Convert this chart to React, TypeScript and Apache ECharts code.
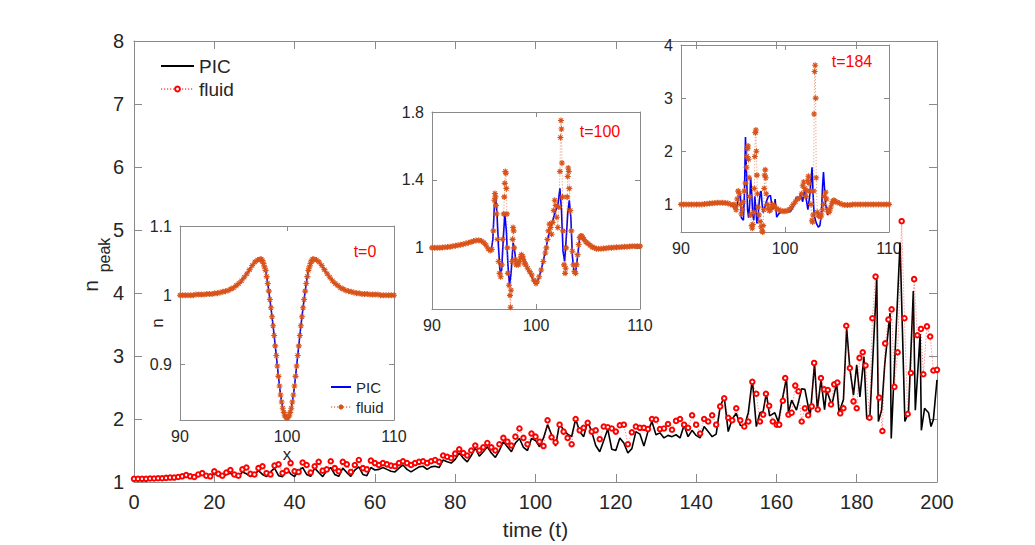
import React, { useEffect, useRef } from "react";
import * as echarts from "echarts";

const FONT = "Liberation Sans";
const AXIS = "#8a8a8a";
const TEXT = "#262626";
const ORANGE = "#D95319";
const ASTERISK = "path://M5,0L5,10M0,5L10,5M1.5,1.5L8.5,8.5M1.5,8.5L8.5,1.5";

// ---------- main chart ----------
const mainXTicks = { min: 0, max: 200, interval: 20 };
const mainYTicks = { min: 1, max: 8, interval: 1 };

// PIC, t = 0 .. 154 (step 1)
const picMain: number[] = [
  1.05, 1.05, 1.05, 1.05, 1.05, 1.05, 1.05, 1.055, 1.055, 1.06,
  1.06, 1.065, 1.08, 1.10, 1.08, 1.07, 1.10, 1.12, 1.09, 1.075,
  1.14, 1.10, 1.08, 1.12, 1.14, 1.09, 1.08, 1.16, 1.13, 1.085,
  1.12, 1.18, 1.12, 1.085, 1.16, 1.22, 1.10, 1.085, 1.22, 1.13,
  1.085, 1.18, 1.23, 1.12, 1.09, 1.22, 1.15, 1.085, 1.18, 1.23,
  1.12, 1.09, 1.22, 1.15, 1.09, 1.19, 1.24, 1.12, 1.10, 1.23,
  1.19, 1.20, 1.23, 1.20, 1.17, 1.16, 1.22, 1.27, 1.20, 1.16,
  1.20, 1.24, 1.25, 1.20, 1.24, 1.25, 1.23, 1.35, 1.32, 1.30,
  1.36, 1.46, 1.38, 1.32, 1.42, 1.54, 1.41, 1.48, 1.56, 1.46,
  1.39, 1.50, 1.64, 1.56, 1.48, 1.62, 1.69, 1.55, 1.50, 1.69,
  1.66, 1.56, 1.70, 1.91, 1.75, 1.57, 1.93, 1.82, 1.76, 1.72,
  2.00, 1.80, 1.72, 1.96, 1.80, 1.58, 1.48, 1.66, 1.84, 1.52,
  1.50, 1.70, 1.62, 1.46, 1.53, 1.80, 1.76, 1.57, 1.80, 1.96,
  1.75, 1.78, 1.70, 1.74, 1.72, 1.75, 1.70, 1.90, 1.72, 1.82,
  1.74, 1.70, 1.88, 1.80, 1.72, 1.76, 2.20, 2.35, 1.80, 2.00,
  2.09, 1.90, 1.88, 2.10, 2.63,
];
// PIC, t > 154 as [t, n]
const picTail: [number, number][] = [
  [155.0, 1.88], [155.9, 2.1], [156.7, 2.12], [157.5, 2.41], [158.3, 2.05], [159.6, 2.1],
  [160.5, 1.95], [161.3, 2.25], [162.5, 2.65], [163.0, 2.1], [163.8, 2.3], [165.0, 2.14],
  [166.3, 2.48], [167.1, 2.47], [168.4, 2.04], [169.5, 2.88], [170.2, 2.15], [171.1, 2.62],
  [172.0, 2.15], [172.5, 2.46], [173.8, 2.22], [175.0, 2.57], [175.6, 2.1], [176.7, 2.31],
  [177.5, 3.44], [178.3, 2.8], [179.2, 2.38], [180.0, 2.86], [180.8, 2.35], [181.8, 2.99],
  [182.5, 2.0], [183.3, 2.05], [185.0, 4.22], [185.4, 1.96], [186.2, 2.14], [187.0, 2.88],
  [188.3, 3.68], [188.6, 1.69], [190.8, 4.8], [192.0, 1.96], [192.9, 2.1], [194.1, 4.03],
  [194.6, 2.14], [195.8, 3.35], [196.1, 1.82], [196.9, 2.17], [197.9, 2.1], [198.5, 1.88],
  [199.1, 1.99], [200.0, 2.62],
];

// fluid, t = 0 .. 155 (step 1)
const fluidMain: number[] = [
  1.05, 1.05, 1.05, 1.05, 1.055, 1.055, 1.06, 1.06, 1.065, 1.07,
  1.07, 1.08, 1.09, 1.11, 1.09, 1.08, 1.12, 1.14, 1.10, 1.09,
  1.17, 1.13, 1.10, 1.15, 1.19, 1.12, 1.10, 1.20, 1.23, 1.13,
  1.12, 1.22, 1.25, 1.14, 1.12, 1.26, 1.28, 1.14, 1.18, 1.30,
  1.17, 1.16, 1.31, 1.27, 1.15, 1.25, 1.32, 1.18, 1.20, 1.33,
  1.22, 1.17, 1.32, 1.28, 1.16, 1.27, 1.35, 1.22, 1.20, 1.34,
  1.30, 1.27, 1.30, 1.28, 1.26, 1.25, 1.30, 1.33, 1.30, 1.27,
  1.30, 1.32, 1.33, 1.30, 1.33, 1.35, 1.32, 1.42, 1.40, 1.38,
  1.45, 1.52, 1.46, 1.42, 1.50, 1.58, 1.50, 1.55, 1.62, 1.55,
  1.50, 1.60, 1.70, 1.64, 1.58, 1.72, 1.85, 1.70, 1.60, 1.77,
  1.72, 1.64, 1.57, 1.98, 1.71, 1.63, 1.91, 1.80, 1.70, 1.60,
  2.00, 1.82, 1.86, 1.94, 1.80, 1.82, 1.68, 1.88, 1.87, 1.85,
  1.80, 1.90, 1.91, 1.60, 1.79, 1.88, 1.86, 1.86, 1.84, 2.00,
  1.99, 1.84, 1.85, 1.92, 1.83, 1.97, 2.00, 1.91, 1.86, 2.06,
  1.91, 1.77, 2.00, 1.96, 2.06, 1.91, 2.20, 2.33, 2.02, 1.98,
  2.17, 1.98, 1.88, 1.96, 2.59, 2.40,
];
// fluid, t > 155 as [t, n]
const fluidTail: [number, number][] = [
  [155.9, 1.96], [156.7, 2.07], [157.4, 2.4], [158.2, 2.21], [159.1, 1.96], [160.1, 1.91],
  [160.7, 1.91], [161.6, 2.29], [162.2, 2.65], [163.0, 2.07], [163.8, 2.1], [164.7, 2.53],
  [165.5, 2.44], [166.3, 1.96], [167.1, 2.17], [167.9, 2.06], [168.8, 2.2], [169.4, 2.89],
  [170.3, 2.15], [171.1, 2.65], [171.9, 2.47], [172.8, 2.46], [173.6, 2.23], [174.4, 2.55],
  [175.2, 2.58], [175.9, 2.09], [176.7, 2.17], [177.4, 3.48], [178.3, 2.81], [179.2, 2.28],
  [180.0, 2.17], [180.7, 2.97], [181.5, 3.06], [182.2, 2.85], [183.2, 2.02], [183.9, 3.6],
  [184.7, 4.26], [185.6, 2.34], [186.4, 1.81], [187.1, 3.2], [187.9, 3.58], [188.7, 3.74],
  [189.4, 2.51], [190.2, 3.06], [191.2, 5.14], [191.9, 3.6], [192.7, 2.08], [193.5, 2.73],
  [194.3, 4.22], [195.1, 3.33], [196.0, 3.43], [196.6, 2.71], [197.5, 3.47], [198.3, 3.31],
  [199.1, 2.77], [200.0, 2.78],
];

// ---------- inset t=0 ----------
const insetXTicks = { min: 90, max: 110, interval: 10 };
const inset0YTicks = [0.9, 1, 1.1];
const profile0: [number, number][] = [
  [90, 1.0], [90.25, 1.0], [90.5, 1.0], [90.75, 1.0], [91, 1.0], [91.25, 1.0], [91.5, 1.001],
  [91.75, 1.001], [92, 1.001], [92.25, 1.001], [92.5, 1.002], [92.75, 1.002], [93, 1.002],
  [93.25, 1.003], [93.5, 1.003], [93.75, 1.004], [94, 1.005], [94.25, 1.006], [94.5, 1.007],
  [94.75, 1.009], [95, 1.011], [95.25, 1.014], [95.5, 1.017], [95.75, 1.021], [96, 1.026],
  [96.25, 1.031], [96.5, 1.037], [96.75, 1.043], [97, 1.048], [97.25, 1.051], [97.5, 1.052],
  [97.6, 1.052], [97.7, 1.05], [97.8, 1.046], [97.9, 1.041], [98.0, 1.036], [98.1, 1.027],
  [98.2, 1.017], [98.3, 1.006], [98.4, 0.994], [98.5, 0.982], [98.6, 0.969], [98.7, 0.956],
  [98.8, 0.942], [98.9, 0.927], [99.0, 0.913], [99.1, 0.898], [99.2, 0.883], [99.3, 0.869],
  [99.4, 0.856], [99.5, 0.846], [99.6, 0.837], [99.7, 0.831], [99.8, 0.826], [99.9, 0.824],
  [100.0, 0.823], [100.1, 0.824], [100.2, 0.826], [100.3, 0.831], [100.4, 0.837], [100.5, 0.846],
  [100.6, 0.856], [100.7, 0.869], [100.8, 0.883], [100.9, 0.898], [101.0, 0.913], [101.1, 0.927],
  [101.2, 0.942], [101.3, 0.956], [101.4, 0.969], [101.5, 0.982], [101.6, 0.994], [101.7, 1.006],
  [101.8, 1.017], [101.9, 1.027], [102.0, 1.036], [102.1, 1.041], [102.2, 1.046], [102.3, 1.05],
  [102.4, 1.052], [102.5, 1.052], [102.75, 1.051], [103, 1.048], [103.25, 1.043], [103.5, 1.037],
  [103.75, 1.031], [104, 1.026], [104.25, 1.021], [104.5, 1.017], [104.75, 1.014], [105, 1.011],
  [105.25, 1.009], [105.5, 1.007], [105.75, 1.006], [106, 1.005], [106.25, 1.004], [106.5, 1.003],
  [106.75, 1.003], [107, 1.002], [107.25, 1.002], [107.5, 1.002], [107.75, 1.001], [108, 1.001],
  [108.25, 1.001], [108.5, 1.001], [108.75, 1.0], [109, 1.0], [109.25, 1.0], [109.5, 1.0],
  [109.75, 1.0], [110, 1.0],
];

// ---------- inset t=100 ----------
const inset100YTicks = [1, 1.4, 1.8];
const pic100: [number, number][] = [
  [90, 1.0], [90.5, 1.0], [91, 1.0], [91.5, 1.005], [92, 1.01], [92.5, 1.015], [93, 1.022],
  [93.5, 1.03], [94, 1.04], [94.5, 1.045], [94.8, 1.04], [95.1, 1.02], [95.4, 0.99], [95.7, 0.985],
  [95.85, 1.05], [96.0, 1.25], [96.1, 1.32], [96.25, 1.2], [96.4, 1.0], [96.55, 0.85], [96.7, 0.87],
  [96.85, 1.05], [97.0, 1.2], [97.15, 1.1], [97.3, 0.9], [97.45, 0.78], [97.6, 0.85], [97.8, 1.03],
  [97.95, 0.98], [98.1, 0.9], [98.3, 0.9], [98.5, 0.93], [98.7, 0.96], [98.9, 0.93], [99.2, 0.88],
  [99.5, 0.84], [99.8, 0.8], [100.0, 0.79], [100.2, 0.81], [100.5, 0.87], [100.8, 0.95], [101.0, 1.01],
  [101.3, 1.1], [101.6, 1.16], [101.9, 1.22], [102.1, 1.25], [102.3, 1.35], [102.45, 1.22],
  [102.6, 0.98], [102.75, 0.92], [102.9, 1.05], [103.05, 1.2], [103.2, 1.28], [103.35, 1.18],
  [103.5, 0.95], [103.65, 0.86], [103.8, 0.85], [104.0, 0.95], [104.2, 1.06], [104.4, 1.07],
  [104.6, 1.05], [104.9, 1.03], [105.3, 1.01], [105.8, 0.995], [106.5, 0.995], [107, 1.0],
  [108, 1.005], [109, 1.01], [110, 1.01],
];
const fluid100: [number, number][] = [
  [90, 1.0], [90.25, 1.0], [90.5, 1.0], [90.75, 1.0], [91, 1.002], [91.25, 1.003], [91.5, 1.005],
  [91.75, 1.007], [92, 1.01], [92.25, 1.012], [92.5, 1.015], [92.75, 1.018], [93, 1.022],
  [93.25, 1.026], [93.5, 1.03], [93.75, 1.035], [94, 1.04], [94.25, 1.043], [94.5, 1.045],
  [94.75, 1.04], [95, 1.03], [95.2, 1.015], [95.4, 0.995], [95.6, 0.985], [95.75, 0.99],
  [95.9, 1.1], [96.0, 1.28], [96.05, 1.32], [96.1, 1.3], [96.15, 1.25], [96.2, 1.2], [96.3, 1.05],
  [96.4, 0.92], [96.5, 0.85], [96.6, 0.83], [96.7, 0.9], [96.8, 1.05], [96.9, 1.2], [96.95, 1.3],
  [97.0, 1.38], [97.05, 1.45], [97.1, 1.44], [97.15, 1.35], [97.2, 1.2], [97.25, 1.0], [97.3, 0.85],
  [97.4, 0.78], [97.5, 0.72], [97.55, 0.65], [97.6, 0.75], [97.7, 0.92], [97.75, 1.05], [97.8, 1.12],
  [97.85, 1.1], [97.9, 1.0], [98.0, 0.93], [98.1, 0.9], [98.2, 0.91], [98.3, 0.9], [98.4, 0.92],
  [98.5, 0.94], [98.6, 0.96], [98.7, 0.95], [98.8, 0.93], [98.9, 0.91], [99.0, 0.9], [99.2, 0.88],
  [99.4, 0.86], [99.6, 0.84], [99.8, 0.81], [100.0, 0.79], [100.1, 0.8], [100.3, 0.83], [100.5, 0.87],
  [100.7, 0.92], [100.9, 0.97], [101.0, 1.0], [101.1, 1.05], [101.2, 1.1], [101.3, 1.14], [101.4, 1.12],
  [101.5, 1.08], [101.6, 1.15], [101.7, 1.22], [101.8, 1.28], [101.9, 1.25], [102.0, 1.18], [102.1, 1.12],
  [102.2, 1.24], [102.3, 1.45], [102.35, 1.65], [102.4, 1.75], [102.45, 1.7], [102.5, 1.5], [102.55, 1.3],
  [102.6, 1.1], [102.7, 0.9], [102.8, 0.85], [102.85, 0.88], [102.9, 1.0], [103.0, 1.3], [103.05, 1.42],
  [103.1, 1.47], [103.15, 1.45], [103.2, 1.35], [103.3, 1.22], [103.4, 1.1], [103.5, 0.98], [103.6, 0.9],
  [103.7, 0.86], [103.8, 0.85], [103.9, 0.9], [104.0, 0.96], [104.1, 1.02], [104.2, 1.06], [104.3, 1.07],
  [104.4, 1.07], [104.5, 1.06], [104.6, 1.05], [104.8, 1.035], [105.0, 1.025], [105.2, 1.015],
  [105.4, 1.005], [105.6, 1.0], [105.8, 0.995], [106, 0.995], [106.25, 0.995], [106.5, 0.996],
  [106.75, 0.998], [107, 1.0], [107.25, 1.001], [107.5, 1.002], [107.75, 1.003], [108, 1.004],
  [108.25, 1.005], [108.5, 1.006], [108.75, 1.007], [109, 1.008], [109.25, 1.009], [109.5, 1.01],
  [109.75, 1.01], [110, 1.01],
];

// ---------- inset t=184 ----------
const inset184YTicks = [1, 2, 3, 4];
const pic184: [number, number][] = [
  [90, 1.0], [91, 1.0], [92, 1.0], [92.5, 1.01], [93, 1.02], [93.5, 1.03], [94, 1.03], [94.5, 1.02],
  [95, 0.98], [95.3, 0.9], [95.5, 1.1], [95.7, 1.2], [95.8, 0.75], [96.0, 0.7], [96.1, 1.2], [96.2, 2.27],
  [96.3, 1.6], [96.4, 0.9], [96.5, 0.75], [96.6, 1.0], [96.7, 1.5], [96.8, 1.2], [96.9, 0.8], [97.0, 0.7],
  [97.1, 1.15], [97.2, 0.9], [97.3, 0.64], [97.4, 0.75], [97.5, 1.0], [97.6, 1.2], [97.7, 1.25], [97.8, 1.0],
  [97.9, 0.85], [98.0, 0.9], [98.2, 1.05], [98.4, 1.15], [98.6, 1.17], [98.8, 0.9], [99.0, 1.0], [99.05, 1.1],
  [99.2, 0.76], [99.4, 0.82], [99.7, 0.87], [100.0, 0.89], [100.3, 0.86], [100.5, 0.86], [100.8, 0.95],
  [101.1, 1.14], [101.3, 1.1], [101.5, 1.2], [101.7, 1.05], [101.9, 1.3], [102.0, 1.15], [102.2, 0.9],
  [102.4, 1.2], [102.6, 1.7], [102.7, 1.2], [102.8, 0.8], [103.0, 0.65], [103.2, 0.57], [103.35, 0.6],
  [103.5, 0.8], [103.6, 1.3], [103.7, 1.61], [103.8, 1.3], [103.9, 1.0], [104.1, 0.8], [104.3, 0.88],
  [104.5, 1.0], [104.7, 1.08], [105.0, 1.05], [105.5, 1.0], [106, 0.99], [107, 1.0], [108, 1.0],
  [109, 1.0], [110, 1.0],
];
const fluid184: [number, number][] = [
  [90, 1.0], [90.25, 1.0], [90.5, 1.0], [90.75, 1.0], [91, 1.0], [91.25, 1.0], [91.5, 1.0], [91.75, 1.0],
  [92, 1.0], [92.25, 1.005], [92.5, 1.01], [92.75, 1.015], [93, 1.02], [93.25, 1.025], [93.5, 1.03],
  [93.75, 1.03], [94, 1.03], [94.25, 1.025], [94.5, 1.02], [94.75, 1.0], [95.0, 0.99], [95.1, 1.0],
  [95.2, 0.95], [95.3, 0.9], [95.4, 1.1], [95.5, 1.25], [95.6, 1.2], [95.7, 1.0], [95.8, 0.82],
  [95.9, 0.9], [96.0, 1.05], [96.1, 1.25], [96.2, 1.4], [96.3, 1.7], [96.35, 1.9], [96.4, 2.05],
  [96.45, 2.1], [96.5, 1.85], [96.55, 1.5], [96.6, 1.15], [96.7, 0.8], [96.8, 0.6], [96.85, 0.55],
  [96.9, 0.62], [97.0, 0.85], [97.05, 1.3], [97.1, 1.9], [97.15, 2.35], [97.2, 2.4], [97.25, 2.0],
  [97.3, 1.55], [97.35, 1.2], [97.4, 0.95], [97.5, 0.8], [97.6, 0.68], [97.7, 0.58], [97.8, 0.5],
  [97.85, 0.48], [97.9, 0.6], [97.95, 0.9], [98.0, 1.3], [98.05, 1.55], [98.1, 1.65], [98.15, 1.5],
  [98.2, 1.2], [98.3, 1.0], [98.4, 0.92], [98.5, 0.88], [98.6, 0.9], [98.7, 0.95], [98.8, 1.0],
  [99.0, 0.97], [99.2, 0.92], [99.4, 0.9], [99.6, 0.88], [99.8, 0.87], [100.0, 0.87], [100.2, 0.88],
  [100.4, 0.9], [100.6, 0.94], [100.8, 1.0], [101.0, 1.05], [101.2, 1.1], [101.4, 1.12], [101.6, 1.2],
  [101.7, 1.35], [101.8, 1.42], [101.9, 1.3], [102.0, 1.15], [102.1, 1.25], [102.2, 1.45], [102.25, 1.53],
  [102.3, 1.4], [102.4, 1.25], [102.5, 1.0], [102.6, 0.7], [102.65, 0.67], [102.7, 0.8], [102.75, 1.25],
  [102.8, 2.7], [102.85, 3.5], [102.9, 3.62], [102.95, 3.0], [103.0, 1.5], [103.1, 0.85], [103.2, 0.8],
  [103.3, 0.78], [103.4, 0.76], [103.5, 0.8], [103.6, 0.9], [103.7, 1.0], [103.8, 1.15], [103.9, 1.23],
  [104.0, 1.1], [104.1, 0.9], [104.2, 0.85], [104.3, 0.88], [104.4, 0.95], [104.5, 1.02], [104.6, 1.06],
  [104.7, 1.08], [104.8, 1.06], [105.0, 1.04], [105.25, 1.02], [105.5, 1.0], [105.75, 0.99], [106, 0.99],
  [106.25, 0.99], [106.5, 1.0], [106.75, 1.0], [107, 1.0], [107.25, 1.0], [107.5, 1.0], [107.75, 1.0],
  [108, 1.0], [108.25, 1.0], [108.5, 1.0], [108.75, 1.0], [109, 1.0], [109.25, 1.0], [109.5, 1.0],
  [109.75, 1.0], [110, 1.0],
];

type AxOpts = {
  gridIndex: number;
  min: number;
  max: number;
  interval?: number;
  custom?: number[];
  fontSize: number;
  tickLen: number;
  margin: number;
  name?: string;
  nameGap?: number;
  nameSize?: number;
};

function axisPair(kind: "x" | "y", o: AxOpts) {
  const base = (labels: boolean, position: string) => {
    const ax: any = {
      type: "value",
      gridIndex: o.gridIndex,
      min: o.min,
      max: o.max,
      position,
      axisLine: { show: true, onZero: false, lineStyle: { color: AXIS, width: 1 } },
      axisTick: { show: true, inside: true, length: o.tickLen, lineStyle: { color: AXIS, width: 1 } },
      axisLabel: {
        show: labels,
        margin: o.margin,
        fontSize: o.fontSize,
        fontFamily: FONT,
        color: TEXT,
        hideOverlap: false,
      },
      splitLine: { show: false },
    };
    if (o.interval !== undefined) ax.interval = o.interval;
    if (o.custom) {
      ax.axisTick.customValues = o.custom;
      ax.axisLabel.customValues = o.custom;
    }
    if (labels && o.name) {
      ax.name = o.name;
      ax.nameLocation = "middle";
      ax.nameGap = o.nameGap;
      ax.nameTextStyle = { fontFamily: FONT, fontSize: o.nameSize, color: TEXT };
    }
    return ax;
  };
  return kind === "x" ? [base(true, "bottom"), base(false, "top")] : [base(true, "left"), base(false, "right")];
}

export default function App() {
  const ref = useRef<HTMLDivElement>(null);

  useEffect(() => {
    if (!ref.current) return;
    const chart = echarts.init(ref.current, undefined, { renderer: "svg" });

    const picMainData = [...picMain.map((v, i) => [i, v]), ...picTail];
    const fluidMainData = [...fluidMain.map((v, i) => [i, v]), ...fluidTail];

    const xAxis = [
      ...axisPair("x", { gridIndex: 0, ...mainXTicks, fontSize: 20, tickLen: 8, margin: 10, name: "time (t)", nameGap: 37, nameSize: 21 }),
      ...axisPair("x", { gridIndex: 1, ...insetXTicks, fontSize: 16, tickLen: 5, margin: 8, name: "x", nameGap: 26, nameSize: 17 }),
      ...axisPair("x", { gridIndex: 2, ...insetXTicks, fontSize: 16, tickLen: 5, margin: 8 }),
      ...axisPair("x", { gridIndex: 3, ...insetXTicks, fontSize: 16, tickLen: 5, margin: 8 }),
    ];
    const yAxis = [
      ...axisPair("y", { gridIndex: 0, ...mainYTicks, fontSize: 20, tickLen: 8, margin: 10 }),
      ...axisPair("y", { gridIndex: 1, min: 0.82, max: 1.1, custom: inset0YTicks, fontSize: 16, tickLen: 5, margin: 8 }),
      ...axisPair("y", { gridIndex: 2, min: 0.64, max: 1.8, custom: inset100YTicks, fontSize: 16, tickLen: 5, margin: 8 }),
      ...axisPair("y", { gridIndex: 3, min: 0.48, max: 4, custom: inset184YTicks, fontSize: 16, tickLen: 5, margin: 8 }),
    ];

    const fluidInsetStyle = (name: string, data: [number, number][], idx: number) => ({
      name,
      type: "line",
      xAxisIndex: idx,
      yAxisIndex: idx,
      data,
      symbol: ASTERISK,
      symbolSize: 6,
      showSymbol: true,
      showAllSymbol: true,
      lineStyle: { color: "rgba(217,83,25,0.55)", width: 1, type: [1.2, 1.8] },
      itemStyle: { color: ORANGE, borderColor: ORANGE, borderWidth: 1.1 },
      z: 4,
    });
    const picInsetStyle = (name: string, data: [number, number][], idx: number) => ({
      name,
      type: "line",
      xAxisIndex: idx,
      yAxisIndex: idx,
      data,
      symbol: "none",
      lineStyle: { color: "#0000FF", width: 1.6 },
      itemStyle: { color: "#0000FF" },
      z: 3,
    });

    const hiddenSymbol = { opacity: 0 };

    const option: any = {
      animation: false,
      backgroundColor: "#ffffff",
      grid: [
        { left: 134, top: 41, width: 803, height: 442 },
        { left: 180, top: 226, width: 214, height: 194 },
        { left: 432, top: 112, width: 208, height: 197 },
        { left: 681, top: 45, width: 208, height: 187 },
      ],
      xAxis,
      yAxis,
      legend: [
        {
          data: [
            { name: "PIC", itemStyle: hiddenSymbol },
            { name: "fluid" },
          ],
          orient: "vertical",
          left: 160,
          top: 56,
          itemWidth: 33,
          itemHeight: 6,
          itemGap: 3,
          padding: 0,
          selectedMode: false,
          textStyle: { fontFamily: FONT, fontSize: 19, color: TEXT, lineHeight: 20 },
        },
        {
          data: [
            { name: "PIC ", itemStyle: hiddenSymbol },
            { name: "fluid " },
          ],
          orient: "vertical",
          left: 330,
          top: 378,
          itemWidth: 20,
          itemHeight: 6,
          itemGap: 2,
          padding: 0,
          selectedMode: false,
          formatter: (n: string) => n.trim(),
          textStyle: { fontFamily: FONT, fontSize: 15, color: TEXT, lineHeight: 18 },
        },
      ],
      series: [
        {
          name: "PIC",
          type: "line",
          xAxisIndex: 0,
          yAxisIndex: 0,
          data: picMainData,
          symbol: "none",
          lineStyle: { color: "#000000", width: 1.6 },
          itemStyle: { color: "#000000" },
          z: 2,
        },
        {
          name: "fluid",
          type: "line",
          xAxisIndex: 0,
          yAxisIndex: 0,
          data: fluidMainData,
          symbol: "emptyCircle",
          symbolSize: 4.5,
          showSymbol: true,
          showAllSymbol: true,
          lineStyle: { color: "rgba(255,0,0,0.5)", width: 1, type: [1.2, 1.8] },
          itemStyle: { color: "#ff0000", borderColor: "#ff0000", borderWidth: 0.9 },
          z: 3,
        },
        picInsetStyle("PIC ", profile0, 2),
        fluidInsetStyle("fluid ", profile0, 2),
        picInsetStyle("PIC t=100", pic100, 4),
        fluidInsetStyle("fluid t=100", fluid100, 4),
        picInsetStyle("PIC t=184", pic184, 6),
        fluidInsetStyle("fluid t=184", fluid184, 6),
      ],
      graphic: [
        {
          type: "text",
          x: 90,
          y: 286,
          rotation: Math.PI / 2,
          style: { text: "n", fontFamily: FONT, fontSize: 21, fill: TEXT, align: "center", verticalAlign: "middle" },
        },
        {
          type: "text",
          x: 104,
          y: 255,
          rotation: Math.PI / 2,
          style: { text: "peak", fontFamily: FONT, fontSize: 16, fill: TEXT, align: "center", verticalAlign: "middle" },
        },
        {
          type: "text",
          x: 157,
          y: 323,
          rotation: Math.PI / 2,
          style: { text: "n", fontFamily: FONT, fontSize: 17, fill: TEXT, align: "center", verticalAlign: "middle" },
        },
        {
          type: "text",
          x: 365,
          y: 251,
          style: { text: "t=0", fontFamily: FONT, fontSize: 16, fill: "#ff0000", align: "center", verticalAlign: "middle" },
        },
        {
          type: "text",
          x: 600,
          y: 131,
          style: { text: "t=100", fontFamily: FONT, fontSize: 16, fill: "#ff0000", align: "center", verticalAlign: "middle" },
        },
        {
          type: "text",
          x: 852,
          y: 61,
          style: { text: "t=184", fontFamily: FONT, fontSize: 16, fill: "#ff0000", align: "center", verticalAlign: "middle" },
        },
      ],
    };

    chart.setOption(option);
    return () => chart.dispose();
  }, []);

  return (
    <div
      ref={ref}
      style={{ position: "fixed", left: 0, top: 0, width: 1035, height: 545, background: "#fff" }}
    />
  );
}
